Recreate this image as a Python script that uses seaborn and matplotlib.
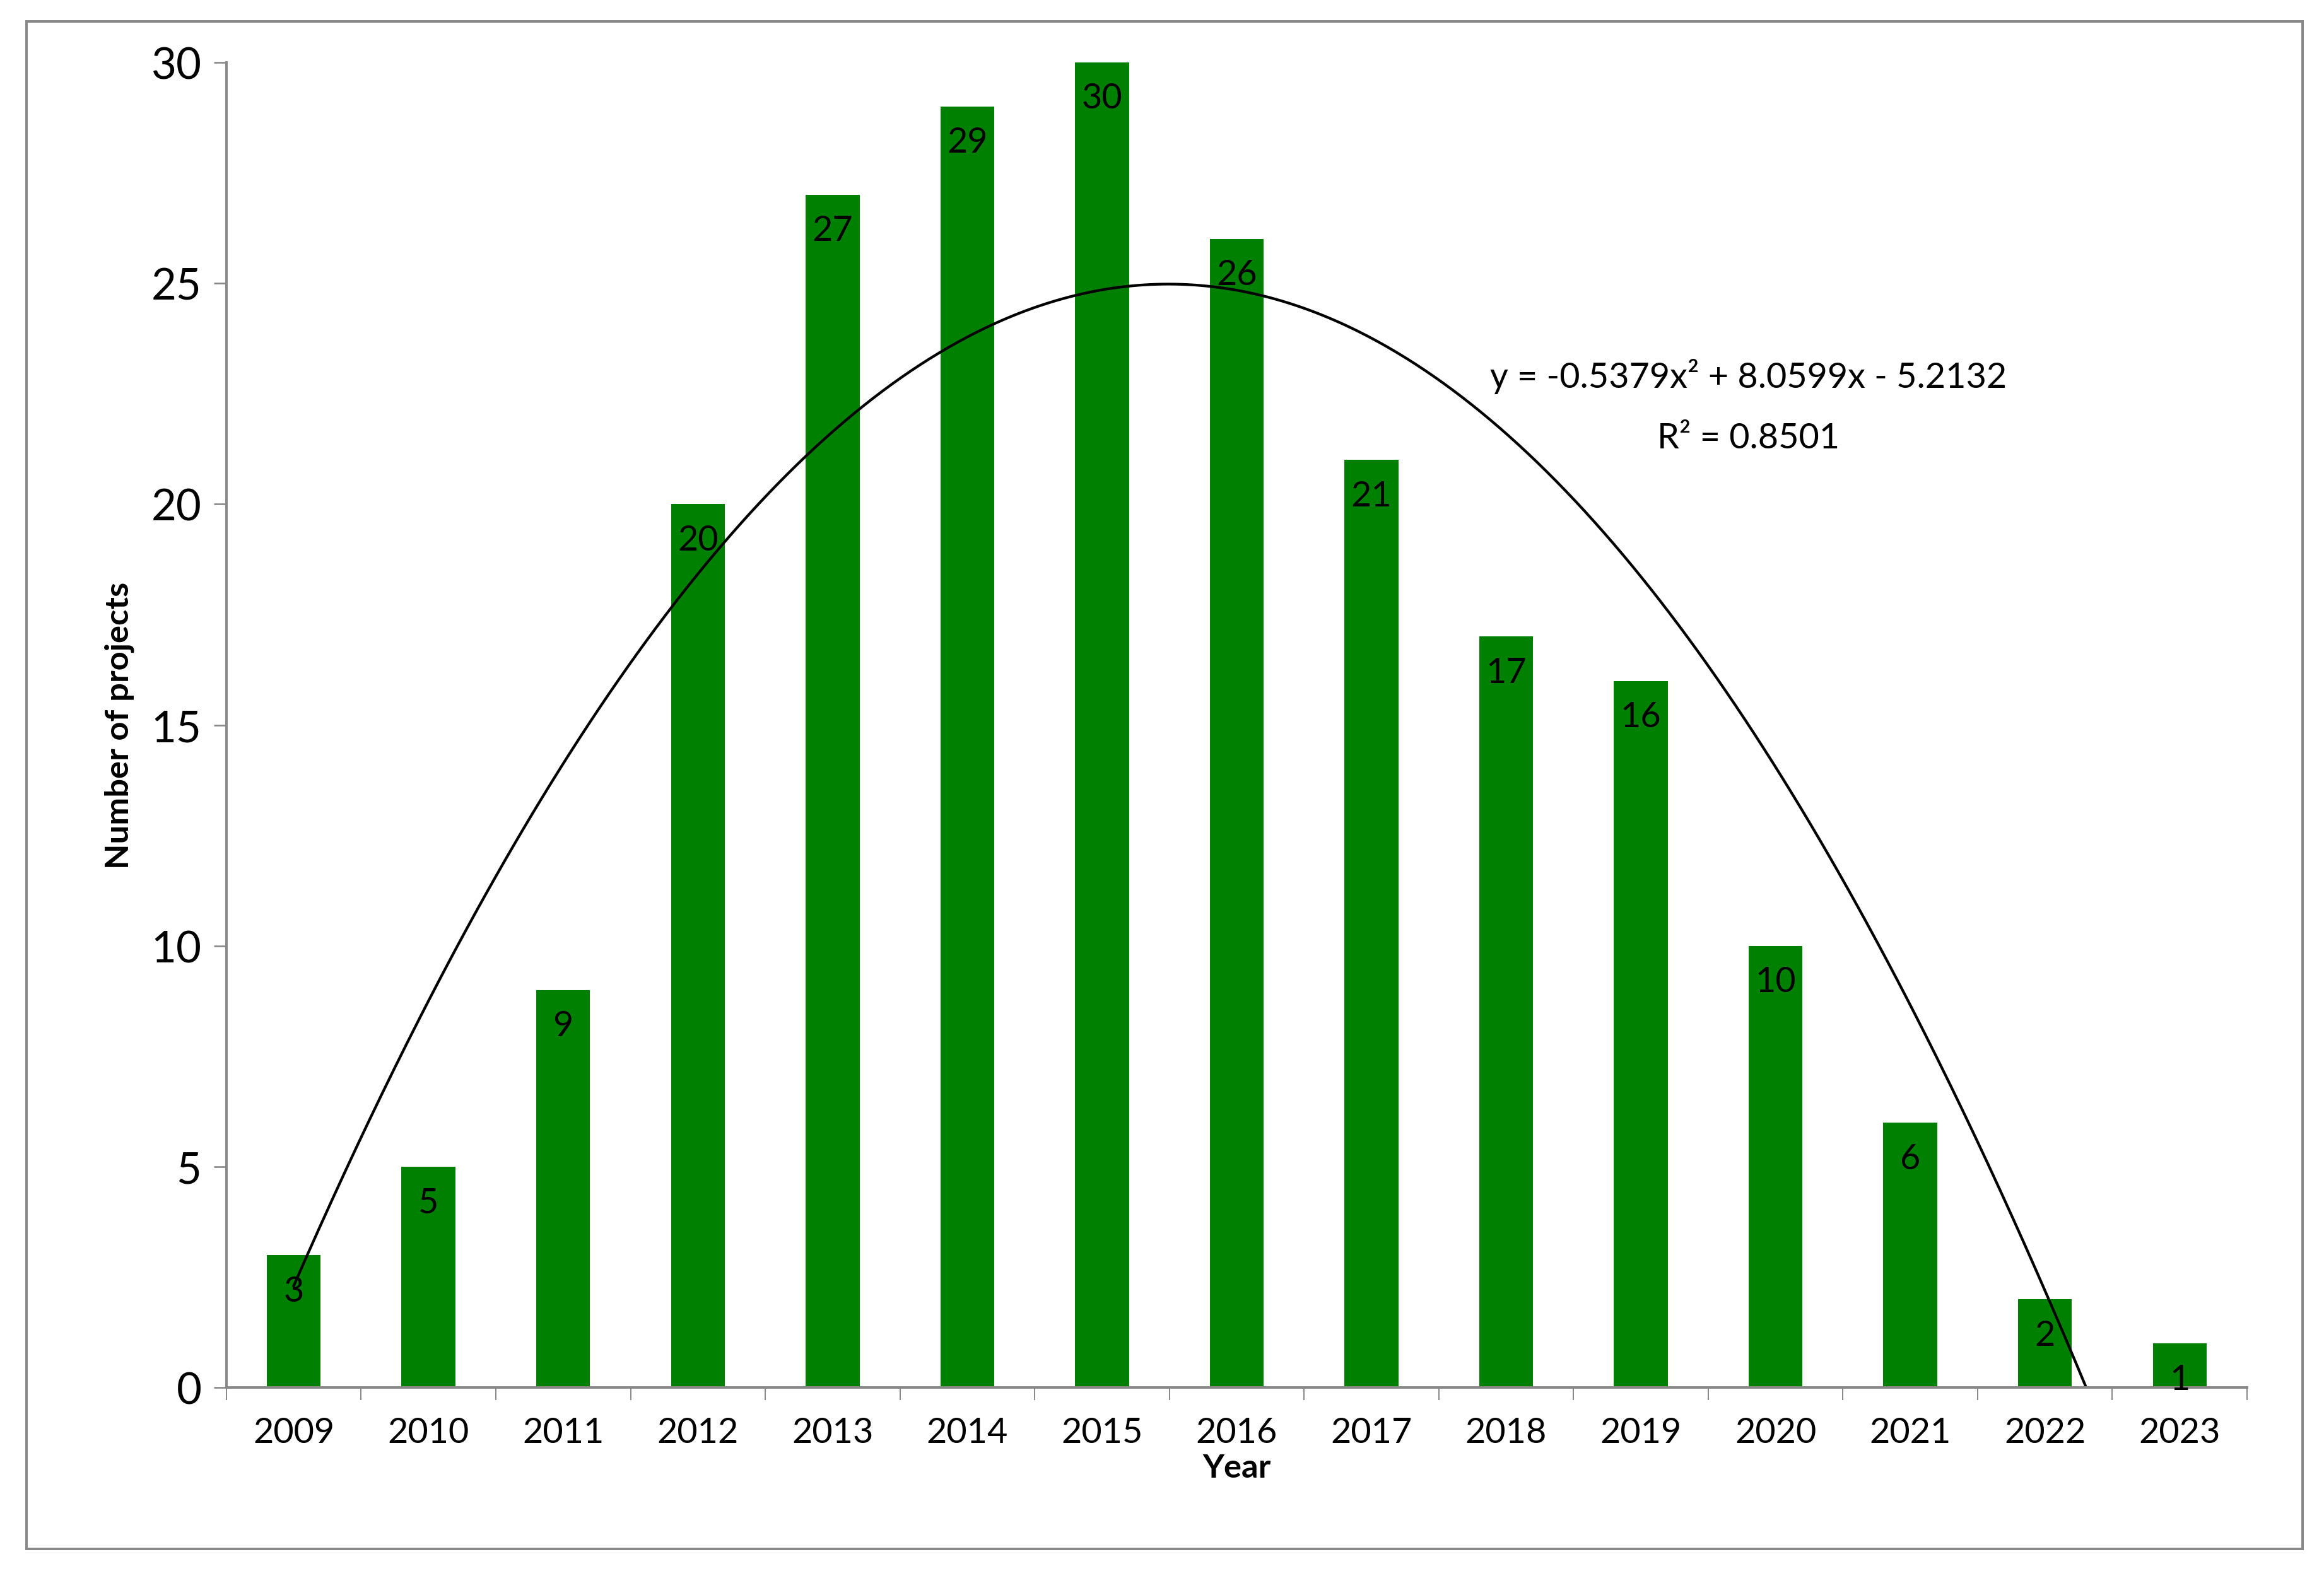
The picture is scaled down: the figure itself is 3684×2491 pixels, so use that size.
import matplotlib
matplotlib.use("Agg")
import matplotlib.pyplot as plt
import numpy as np
import pandas as pd
import seaborn as sns

YEARS = ["2009", "2010", "2011", "2012", "2013", "2014", "2015", "2016",
         "2017", "2018", "2019", "2020", "2021", "2022", "2023"]
PROJECTS = [3, 5, 9, 20, 27, 29, 30, 26, 21, 17, 16, 10, 6, 2, 1]
Y_TICKS = [0, 5, 10, 15, 20, 25, 30]

plt.rcParams["font.family"] = "Lato"
GREEN = "#008000"

df = pd.DataFrame({"Year": YEARS, "Projects": PROJECTS})

fig = plt.figure(figsize=(15.6, 10.55), dpi=236.2)
ax = fig.add_axes([0.0974, 0.1166, 0.8693, 0.8434])

sns.barplot(data=df, x="Year", y="Projects", color=GREEN, width=0.4,
            saturation=1, ax=ax)

# value labels just inside the bar tops
for i, v in enumerate(PROJECTS):
    ax.text(i, v - 0.45, str(v), ha="center", va="top", fontsize=17)

# second order polynomial trendline (x = 1..n as in a spreadsheet)
xs = np.arange(1, len(PROJECTS) + 1)
coef = np.polyfit(xs, PROJECTS, 2)
xf = np.linspace(1, 15, 600)
yf = np.polyval(coef, xf)
keep = yf >= 0
ax.plot(xf[keep] - 1, yf[keep], color="black", lw=1.3)

ax.text(10.8, 22.9, "y = -0.5379x² + 8.0599x - 5.2132", ha="center",
        va="center", fontsize=17)
ax.text(10.8, 21.5, "R² = 0.8501", ha="center", va="center", fontsize=17)

ax.set_xlim(-0.5, len(YEARS) - 0.5)
ax.set_ylim(0, 30)
ax.set_yticks(Y_TICKS)
ax.tick_params(axis="y", labelsize=21, length=6, color="#888888", pad=6)
ax.set_xticks(np.arange(len(YEARS) + 1) - 0.5, minor=True)
ax.tick_params(axis="x", which="major", length=0, labelsize=17, pad=14)
ax.tick_params(axis="x", which="minor", length=6, color="#888888")

ax.set_xlabel("Year", fontsize=16, fontweight="bold", labelpad=2)
ax.set_ylabel("Number of projects", fontsize=16, fontweight="bold", labelpad=8)

for s in ["top", "right"]:
    ax.spines[s].set_visible(False)
for s in ["left", "bottom"]:
    ax.spines[s].set_color("#888888")
    ax.spines[s].set_linewidth(1.2)

# outer chart border
fig.patches.append(plt.Rectangle((0.0115, 0.014), 0.979, 0.972,
                                 transform=fig.transFigure, fill=False,
                                 edgecolor="#888888", lw=1.2))

fig.savefig("out.png", dpi=236.2)
